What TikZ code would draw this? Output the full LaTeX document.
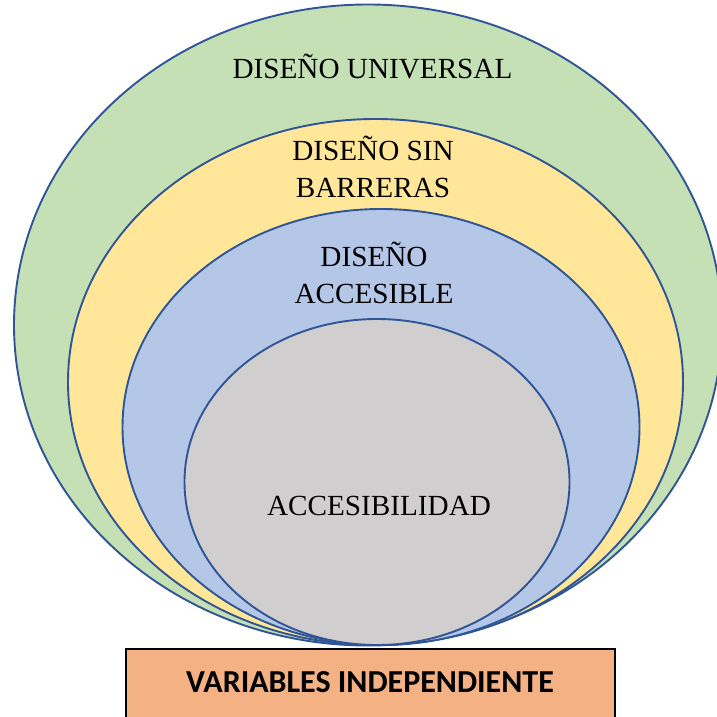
\documentclass[tikz,border=0pt]{standalone}
\usepackage{fontspec}
\setmainfont{Liberation Serif}
\newfontfamily\boxfont{Carlito}
\usetikzlibrary{shapes.geometric}
\definecolor{ringline}{HTML}{2F5597}
\definecolor{greenfill}{HTML}{C5E0B4}
\definecolor{yellowfill}{HTML}{FFE699}
\definecolor{bluefill}{HTML}{B4C7E7}
\definecolor{grayfill}{HTML}{D0CECE}
\definecolor{orangefill}{HTML}{F4B183}
\tikzset{
  ring/.style={ellipse, draw=ringline, line width=1.9pt, inner sep=0pt},
  ringtext/.style={align=center, font=\fontsize{29.2}{37}\selectfont}
}
\begin{document}
\begin{tikzpicture}[x=1pt,y=-1pt]
  \useasboundingbox (0,0) rectangle (717,717);
  \clip (0,0) rectangle (717,717);
  % Nested ellipses
  \node[ring, fill=greenfill, minimum width=708, minimum height=641] (universal) at (368,325) {};
  \node[ring, fill=yellowfill, minimum width=615, minimum height=526] (barreras) at (375.5,382) {};
  \node[ring, fill=bluefill, minimum width=517, minimum height=436] (accesible) at (381,427) {};
  \node[ring, fill=grayfill, minimum width=385, minimum height=326] (accesibilidad) at (377,482) {};
  % Labels
  \node[ringtext] (tuniversal) at (372.5,67) {DISEÑO UNIVERSAL};
  \node[ringtext] (tbarreras) at (373,167) {DISEÑO SIN\\BARRERAS};
  \node[ringtext] (taccesible) at (374,273) {DISEÑO\\ACCESIBLE};
  \node[ringtext] (taccesibilidad) at (379,506) {ACCESIBILIDAD};
  % Bottom box
  \draw[fill=orangefill, line width=2.2pt] (126,649) rectangle (615,740);
  \node[font=\boxfont\bfseries\fontsize{32}{38}\selectfont] (variables) at (370,682) {VARIABLES INDEPENDIENTE};
\end{tikzpicture}
\end{document}
